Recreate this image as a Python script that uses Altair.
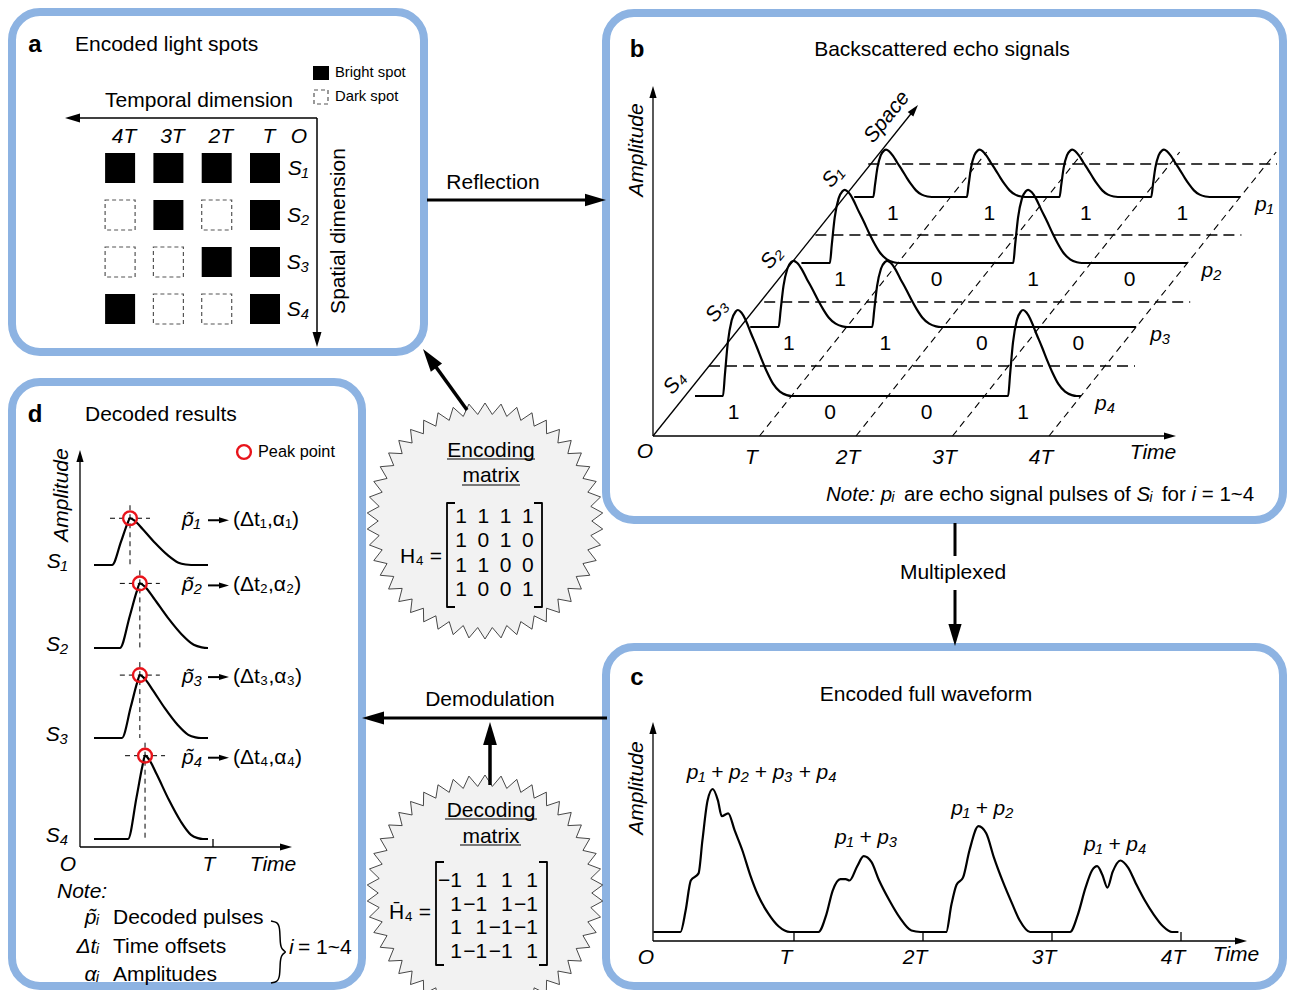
import math
import altair as alt
import pandas as pd

FONT = "Liberation Sans"
BLUE = "#8db3e2"

# ---------------- values ----------------
H4 = [[1, 1, 1, 1],
      [1, 0, 1, 0],
      [1, 1, 0, 0],
      [1, 0, 0, 1]]
H4_BAR = [[-1, 1, 1, 1],
          [1, -1, 1, -1],
          [1, 1, -1, -1],
          [1, -1, -1, 1]]
SPOTS = ["S₁", "S₂", "S₃", "S₄"]
PULSES = ["p₁", "p₂", "p₃", "p₄"]
TICKS = ["T", "2T", "3T", "4T"]

# panel b : echo pulse of each spot (amplitude, peak position inside each slot)
B_AMP = [0.55, 0.85, 0.77, 1.0]
B_PEAK = [[0.33, 0.30, 0.26, 0.21],
          [0.45, 0.00, 0.35, 0.00],
          [0.45, 0.42, 0.00, 0.00],
          [0.445, 0.00, 0.00, 0.40]]
B_WIDTH = [0.85, 1.0, 1.0, 1.0]
PULSE_DT = [-0.155, -0.135, -0.105, -0.065, -0.025, 0.0, 0.035, 0.085, 0.135,
            0.195, 0.255, 0.305, 0.365, 0.435, 0.505, 0.555]
PULSE_A = [0.0, 0.25, 0.62, 0.88, 0.98, 1.0, 0.97, 0.87, 0.73,
           0.57, 0.40, 0.27, 0.14, 0.05, 0.01, 0.0]

# panel c : encoded full waveform (time in units of T, amplitude)
WAVE_T = [-0.09, 0.12, 0.16, 0.20, 0.26, 0.29, 0.33, 0.37, 0.41, 0.44, 0.49, 0.54, 0.60, 0.66, 0.72, 0.80, 0.88, 0.97,
          1.19, 1.25, 1.30, 1.36, 1.40, 1.43, 1.49, 1.54, 1.60, 1.66, 1.74, 1.82, 1.91, 1.98,
          2.18, 2.22, 2.26, 2.31, 2.36, 2.43, 2.49, 2.55, 2.62, 2.69, 2.75, 2.83,
          3.14, 3.20, 3.26, 3.31, 3.35, 3.39, 3.43, 3.47, 3.53, 3.59, 3.65, 3.72, 3.79, 3.86, 3.93, 3.98]
WAVE_A = [0, 0, 0.15, 0.36, 0.41, 0.64, 0.92, 1.00, 0.92, 0.81, 0.83, 0.71, 0.57, 0.40, 0.26, 0.13, 0.04, 0,
          0, 0.12, 0.29, 0.37, 0.37, 0.36, 0.46, 0.53, 0.49, 0.36, 0.22, 0.10, 0.01, 0,
          0, 0.19, 0.33, 0.38, 0.57, 0.74, 0.69, 0.52, 0.35, 0.20, 0.08, 0,
          0, 0.12, 0.31, 0.43, 0.46, 0.40, 0.31, 0.42, 0.50, 0.45, 0.34, 0.22, 0.12, 0.04, 0, 0]
WAVE_LABELS = ["p₁ + p₂ + p₃ + p₄", "p₁ + p₃", "p₁ + p₂", "p₁ + p₄"]

# panel d : decoded pulses (peak time in T, rise time in T, amplitude)
D_PEAK_T = [0.376, 0.45, 0.45, 0.489]
D_RISE_T = [0.135, 0.15, 0.135, 0.128]
D_AMP = [0.55, 0.76, 0.74, 0.98]
DP_U = [0, 0.5, 0.85, 1.0, 1.25, 1.7, 2.4, 3.1, 3.7, 4.1, 4.4]
DP_A = [0, 0.5, 0.88, 1.0, 0.95, 0.77, 0.47, 0.21, 0.05, 0.01, 0]

# ---------------- builders ----------------
lines, heads, texts, rects, rings = [], [], [], [], []
_ids = [0]

# Arial / Liberation Sans advance widths (per 1000 em) for width estimates
ADV = {' ': 278, 'N': 722, 'o': 556, 't': 278, 'e': 556, ':': 278, 'p': 556, 'a': 556,
       'r': 333, 'c': 500, 'h': 556, 's': 500, 'i': 222, 'g': 556, 'n': 556, 'l': 222,
       'u': 556, 'f': 278, 'S': 667, '=': 584, '1': 556, '~': 584, '4': 556, 'ᵢ': 300}


def width(s, size):
    return sum(ADV.get(ch, 556) for ch in s) * size / 1000.0


def line(pts, w=2.2, kind="solid"):
    _ids[0] += 1
    for o, (x, y) in enumerate(pts):
        lines.append(dict(id=_ids[0], o=o, x=x, y=y, w=w, kind=kind))


def arrow(x0, y0, x1, y1, L=20, w=3.0):
    dx, dy = x1 - x0, y1 - y0
    d = math.hypot(dx, dy)
    ux, uy = dx / d, dy / d
    line([(x0, y0), (x1 - ux * L * 0.75, y1 - uy * L * 0.75)], w)
    heads.append(dict(x=x1, y=y1, angle=math.degrees(math.atan2(dx, -dy)) % 360,
                      size=(1.25 * L) ** 2))


def text(x, y, s, size=21, style="normal", weight="normal", align="center", angle=0):
    texts.append(dict(x=x, y=y, text=s, size=size, style=style, weight=weight,
                      align=align, angle=angle))


# ---------------- panels ----------------
for (x0, y0, x1, y1) in [(12, 12, 424, 352), (606, 13, 1283, 520),
                         (606, 647, 1283, 986), (12, 382, 362, 986)]:
    rects.append(dict(x=x0, x2=x1, y=y0, y2=y1, kind="panel"))

# ---------------- panel a ----------------
text(35, 45, "a", 24, weight="bold")
text(75, 45, "Encoded light spots", align="left")
rects.append(dict(x=313, x2=329, y=66, y2=80, kind="bright"))
rects.append(dict(x=314, x2=328, y=90, y2=104, kind="dark"))
text(335, 73, "Bright spot", 14.8, align="left")
text(335, 97, "Dark spot", 14.8, align="left")
text(199, 101, "Temporal dimension")
arrow(317, 118, 65, 118, L=15, w=1.5)
arrow(317, 118, 317, 347, L=15, w=1.5)
text(339, 231, "Spatial dimension", angle=270)
for i in range(4):
    cy = 168 + i * 47
    for k in range(4):
        cx = 265 - k * 48.3
        rects.append(dict(x=cx - 15, x2=cx + 15, y=cy - 15, y2=cy + 15,
                          kind="bright" if H4[i][k] else "dark"))
    text(298, cy + 1, SPOTS[i], style="italic")
for k in range(4):
    text(265 - k * 48.3 + 4, 137, TICKS[k], style="italic")
text(299, 137, "O", style="italic")

# ---------------- panel b ----------------
text(637, 50, "b", 24, weight="bold")
text(942, 50, "Backscattered echo signals")
text(637, 150, "Amplitude", style="italic", angle=270)
OX, OY, SLOT, SLANT, LANE0, B_UNIT = 653, 436, 96.5, 0.8, 663, 86
arrow(OX, OY, OX, 86, L=12, w=1.3)
arrow(OX, OY, 1176, OY, L=12, w=1.3)
arrow(OX, OY, 918, 105, L=12, w=1.3)
text(887, 117, "Space", style="italic", angle=309)
text(645, 452, "O", style="italic")
text(1153, 453, "Time", style="italic")
for k in range(1, 5):
    xb = LANE0 + k * SLOT
    line([(xb, OY), (xb + (OY - 152) * SLANT, 152)], 1.1, "dashfine")
    text(xb - 8, 458, TICKS[k - 1], style="italic")
B_BASE = [197, 263, 327, 396]
B_DASH = [164, 235, 302, 366]
B_SPOT_XY = [(833, 177), (772, 258), (717, 311), (675, 383)]
for i in range(4):
    base = B_BASE[i]
    x0 = LANE0 + (OY - base) * SLANT
    pts = [(x0, base)]
    for k in range(4):
        if H4[i][k]:
            pk = k + B_PEAK[i][k]
            for dt, a in zip(PULSE_DT, PULSE_A):
                pts.append((x0 + (pk + dt * B_WIDTH[i]) * SLOT, base - a * B_AMP[i] * B_UNIT))
        text(x0 + (k + 0.4) * SLOT, base + 17, str(H4[i][k]))
    pts.append((x0 + 4 * SLOT, base))
    line(pts, 2.2, "smooth")
    line([(x0 + 14, B_DASH[i]), (min(x0 + 440, 1277), B_DASH[i])], 1.3, "dash")
    text(x0 + 4 * SLOT + 24, base + 8, PULSES[i], style="italic")
    sx, sy = B_SPOT_XY[i]
    text(sx, sy, SPOTS[i], style="italic", angle=309)
# note line (segments laid out one after another)
NOTE_SIZE = 20.5
nx = 826
for seg, st in [("Note:", "italic"), ("pᵢ", "italic"), ("are echo signal pulses of", "normal"),
                ("Sᵢ", "italic"), ("for", "normal"), ("i", "italic"), ("= 1~4", "normal")]:
    text(nx, 495, seg, NOTE_SIZE, style=st, align="left")
    nx += width(seg + " ", NOTE_SIZE)

# ---------------- arrows between panels ----------------
arrow(427, 200, 606, 200, L=21, w=3)
text(493, 183, "Reflection")
arrow(467, 410, 423, 349, L=23, w=3.5)
line([(955, 523), (955, 556)], 3)
arrow(955, 590, 955, 646, L=22, w=3)
text(953, 573, "Multiplexed")
arrow(607, 718, 362, 718, L=22, w=3)
text(490, 700, "Demodulation")
arrow(490, 785, 490, 722, L=23, w=3.5)

# ---------------- matrices ----------------
stars = [dict(x=485, y=521), dict(x=485, y=893)]
text(491, 451, "Encoding")
text(491, 476, "matrix")
line([(447, 459), (535, 459)], 1.2)
line([(462, 485), (520, 485)], 1.2)
text(421, 557, "H₄ =")
line([(455, 503), (447, 503), (447, 607), (455, 607)], 1.8)
line([(534, 503), (542, 503), (542, 607), (534, 607)], 1.8)
for r in range(4):
    for c in range(4):
        text(461 + c * 22.3, 517 + r * 24.3, str(H4[r][c]))

text(491, 811, "Decoding")
text(491, 837, "matrix")
line([(445, 819), (537, 819)], 1.2)
line([(460, 845), (521, 845)], 1.2)
text(410, 913, "H̄₄ =")
line([(444, 862), (436, 862), (436, 965), (444, 965)], 1.8)
line([(539, 862), (547, 862), (547, 965), (539, 965)], 1.8)
for r in range(4):
    for c in range(4):
        v = H4_BAR[r][c]
        text(462 + c * 25.3, 881 + r * 23.7, ("−1" if v < 0 else "1"), align="right")

# ---------------- panel c ----------------
text(637, 678, "c", 24, weight="bold")
text(926, 695, "Encoded full waveform")
text(637, 788, "Amplitude", style="italic", angle=270)
C_X0, C_T, C_BASE, C_UNIT, C_AXIS = 665, 129, 932, 143, 941
arrow(653, C_AXIS, 653, 722, L=12, w=1.3)
arrow(653, C_AXIS, 1247, C_AXIS, L=12, w=1.3)
line([(C_X0 + t * C_T, C_BASE - a * C_UNIT) for t, a in zip(WAVE_T, WAVE_A)], 2.2, "smooth")
for k in range(1, 5):
    xt = C_X0 + k * C_T
    line([(xt, C_AXIS), (xt, C_AXIS - 9)], 1.3)
    text(xt - 8, 958, TICKS[k - 1], style="italic")
text(646, 958, "O", style="italic")
text(1236, 955, "Time", style="italic")
C_LAB = [(0.75, 1.11), (1.56, 0.66), (2.46, 0.86), (3.49, 0.61)]
for s, (t, a) in zip(WAVE_LABELS, C_LAB):
    text(C_X0 + t * C_T, C_BASE - a * C_UNIT, s, style="italic")

# ---------------- panel d ----------------
text(35, 415, "d", 24, weight="bold")
text(85, 415, "Decoded results", align="left")
rings.append(dict(x=244, y=452))
text(258, 452, "Peak point", 16.3, align="left")
D_X0, D_T, D_UNIT, D_AXIS = 80, 133, 85, 847
D_BASE = [565, 648, 738, 839]
arrow(D_X0, D_AXIS, D_X0, 450, L=12, w=1.3)
arrow(D_X0, D_AXIS, 292, D_AXIS, L=12, w=1.3)
line([(D_X0 + D_T, D_AXIS), (D_X0 + D_T, D_AXIS - 8)], 1.3)
text(68, 865, "O", style="italic")
text(209, 865, "T", style="italic")
text(273, 865, "Time", style="italic")
text(62, 495, "Amplitude", style="italic", angle=270)
for i in range(4):
    base = D_BASE[i]
    px = D_X0 + D_PEAK_T[i] * D_T
    rise = D_RISE_T[i] * D_T
    rs = px - rise
    amp = D_AMP[i] * D_UNIT
    py = base - amp
    pts = [(94, base)] + [(rs + u * rise, base - a * amp) for u, a in zip(DP_U, DP_A)]
    if pts[-1][0] < 208:
        pts.append((208, base))
    line(pts, 2.2, "smooth")
    line([(px - 20, py), (px + 20, py)], 1.0, "dashd")
    line([(px, py - 13), (px, base)], 1.0, "dashd")
    rings.append(dict(x=px, y=py))
    text(57, base - 3, SPOTS[i], style="italic")
    sub = "₁₂₃₄"[i]
    ly = py + 2
    text(182, ly, "p̃" + sub, style="italic", align="left")
    arrow(208, ly, 229, ly, L=10, w=2.0)
    text(233, ly, "(Δt" + sub + ",α" + sub + ")", align="left")
text(57, 892, "Note:", style="italic", align="left")
for yy, sym, desc in [(918, "p̃ᵢ", "Decoded pulses"), (947, "Δtᵢ", "Time offsets"), (975, "αᵢ", "Amplitudes")]:
    text(99, yy, sym, style="italic", align="right")
    text(113, yy, desc, align="left")
line([(271, 921), (277, 922), (280, 927), (280, 944), (282, 950), (287, 952), (282, 954),
      (280, 960), (280, 977), (277, 982), (271, 983)], 1.5, "brace")
text(289, 948, "i", style="italic", align="left")
text(298, 948, "= 1~4", align="left")

# ---------------- chart ----------------
XS = alt.Scale(domain=[8, 1287], nice=False, zero=False)
YS = alt.Scale(domain=[8, 990], nice=False, zero=False, reverse=True)
X = alt.X("x:Q", scale=XS, axis=None)
Y = alt.Y("y:Q", scale=YS, axis=None)

rdf = pd.DataFrame(rects)
ldf = pd.DataFrame(lines)
tdf = pd.DataFrame(texts)

layers = []
layers.append(alt.Chart(rdf[rdf.kind == "panel"]).mark_rect(
    fill="white", stroke=BLUE, strokeWidth=8, cornerRadius=28
).encode(x=X, x2="x2:Q", y=Y, y2="y2:Q"))

N = 46
star_pts = []
for j in range(2 * N):
    r = 1.0 if j % 2 == 0 else 0.905
    th = math.pi * j / N
    star_pts.append(f"{r * math.sin(th):.4f},{-r * math.cos(th):.4f}")
STAR = "M" + "L".join(star_pts) + "Z"
layers.append(alt.Chart(pd.DataFrame(stars)).mark_point(
    shape=STAR, filled=True, fill="#f2f2f2", stroke="#333333", strokeWidth=0.9,
    size=236 ** 2, opacity=1
).encode(x=X, y=Y))

layers.append(alt.Chart(rdf[rdf.kind == "bright"]).mark_rect(
    fill="black").encode(x=X, x2="x2:Q", y=Y, y2="y2:Q"))
layers.append(alt.Chart(rdf[rdf.kind == "dark"]).mark_rect(
    fill="white", stroke="#555555", strokeWidth=1.2, strokeDash=[4, 3]
).encode(x=X, x2="x2:Q", y=Y, y2="y2:Q"))

styles = {
    "solid": dict(interpolate="linear"),
    "smooth": dict(interpolate="monotone"),
    "brace": dict(interpolate="basis"),
    "dash": dict(interpolate="linear", strokeDash=[11, 6]),
    "dashfine": dict(interpolate="linear", strokeDash=[7, 5]),
    "dashd": dict(interpolate="linear", strokeDash=[5, 4]),
}
for kind, kw in styles.items():
    sub_df = ldf[ldf.kind == kind]
    if len(sub_df) == 0:
        continue
    layers.append(alt.Chart(sub_df).mark_line(
        color="black", strokeCap="butt", strokeJoin="round", **kw
    ).encode(x=X, y=Y, detail="id:N", order="o:Q",
             strokeWidth=alt.StrokeWidth("w:Q", scale=None, legend=None)))

HEAD = "M0,0L-0.48,1.6L0.48,1.6Z"
layers.append(alt.Chart(pd.DataFrame(heads)).mark_point(
    shape=HEAD, filled=True, color="black", opacity=1, strokeWidth=0
).encode(x=X, y=Y, angle=alt.Angle("angle:Q", scale=None),
         size=alt.Size("size:Q", scale=None, legend=None)))

layers.append(alt.Chart(pd.DataFrame(rings)).mark_point(
    shape="circle", filled=False, color="#e8141b", strokeWidth=2.4, size=190, opacity=1
).encode(x=X, y=Y))

for (style, weight, align), g in tdf.groupby(["style", "weight", "align"]):
    layers.append(alt.Chart(g).mark_text(
        font=FONT, fontStyle=style, fontWeight=weight, align=align,
        baseline="middle", color="black"
    ).encode(x=X, y=Y, text="text:N",
             size=alt.Size("size:Q", scale=None, legend=None),
             angle=alt.Angle("angle:Q", scale=None)))

chart = alt.layer(*layers).properties(
    width=1279, height=982, padding=0,
    autosize=alt.AutoSizeParams(type="none"), background="white"
).configure_view(stroke=None)

chart.save("out.html", embed_options={"renderer": "svg", "actions": False})
